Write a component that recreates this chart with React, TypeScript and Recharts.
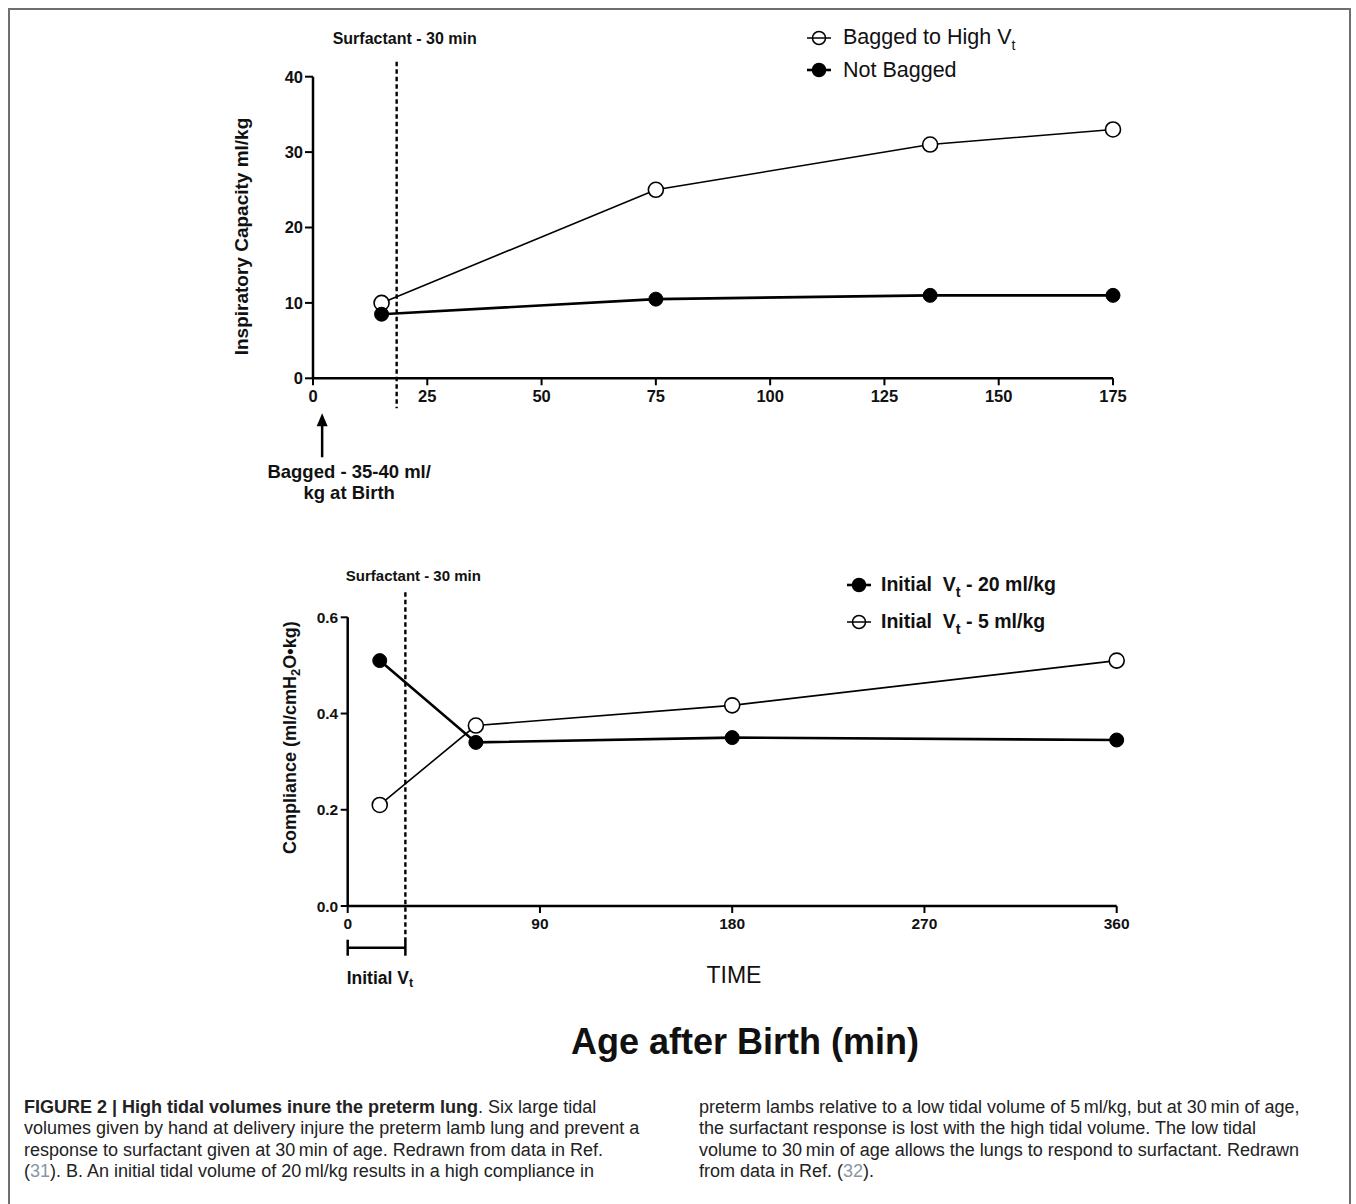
import React from 'react';
import { LineChart, Line, XAxis, YAxis, ReferenceLine, Legend } from 'recharts';

// ---------- Panel A data ----------
const topTimes = [15, 75, 135, 175];
const baggedHighVt = [10, 25, 31, 33];
const notBagged = [8.5, 10.5, 11, 11];
const topXTicks = [0, 25, 50, 75, 100, 125, 150, 175];
const topYTicks = [0, 10, 20, 30, 40];
const topSurfactantTime = 18.3;
const baggedAtBirthTime = 2;

// ---------- Panel B data ----------
const bottomTimes = [15, 60, 180, 360];
const initialVt20 = [0.51, 0.34, 0.35, 0.345];
const initialVt5 = [0.21, 0.375, 0.417, 0.51];
const bottomXTicks = [0, 90, 180, 270, 360];
const bottomYTicks = [0, 0.2, 0.4, 0.6];
const bottomSurfactantTime = 27;
const initialVtStart = 0;

const topData = topTimes.map((t, i) => ({ t, bagged: baggedHighVt[i], notBagged: notBagged[i] }));
const bottomData = bottomTimes.map((t, i) => ({ t, vt20: initialVt20[i], vt5: initialVt5[i] }));

const FONT = '"Liberation Sans", Arial, Helvetica, sans-serif';

const axisLine = { stroke: '#000', strokeWidth: 2.5 };
const tickLine = { stroke: '#000', strokeWidth: 2 };

function LegendIcon({ filled, thick }: { filled: boolean; thick: boolean }) {
  return (
    <svg width={26} height={18} style={{ display: 'block', flex: 'none' }}>
      <circle cx={13} cy={9} r={6.5} fill={filled ? '#000' : '#fff'} stroke="#000" strokeWidth={1.5} />
      <line x1={1} x2={25} y1={9} y2={9} stroke="#000" strokeWidth={thick ? 2.6 : 1.5} />
    </svg>
  );
}

const dashedShape = (label: string, fontSize: number, extTop: number, extBottom: number, labelDx: number, labelDy: number) =>
  (p: any) => {
    const top = Math.min(p.y1, p.y2);
    const bottom = Math.max(p.y1, p.y2);
    return (
      <g>
        <line x1={p.x1} x2={p.x1} y1={top - extTop} y2={bottom + extBottom} stroke="#000" strokeWidth={2.4} strokeDasharray="4.5 3" />
        <text x={p.x1 + labelDx} y={top - labelDy} textAnchor="middle" dominantBaseline="central" fontSize={fontSize} fontWeight={700} fontFamily={FONT} fill="#111">
          {label}
        </text>
      </g>
    );
  };

const arrowShape = (p: any) => {
  const bottom = Math.max(p.y1, p.y2);
  const x = p.x1;
  const tip = bottom + 35;
  return (
    <g>
      <line x1={x} x2={x} y1={tip + 10} y2={bottom + 79} stroke="#000" strokeWidth={2.5} />
      <path d={`M ${x} ${tip} L ${x - 5.5} ${tip + 13} L ${x + 5.5} ${tip + 13} Z`} fill="#000" />
      <text x={x + 27} y={bottom + 93.5} textAnchor="middle" dominantBaseline="central" fontSize={18.5} fontWeight={700} fontFamily={FONT} fill="#111">
        Bagged - 35-40 ml/
      </text>
      <text x={x + 27} y={bottom + 114.5} textAnchor="middle" dominantBaseline="central" fontSize={18.5} fontWeight={700} fontFamily={FONT} fill="#111">
        kg at Birth
      </text>
    </g>
  );
};

const bracketShape = (p: any) => {
  const y = Math.max(p.y1, p.y2) + 41.7;
  return (
    <g>
      <line x1={p.x1} x2={p.x2} y1={y} y2={y} stroke="#000" strokeWidth={2.5} />
      <line x1={p.x1} x2={p.x1} y1={y - 8} y2={y + 8} stroke="#000" strokeWidth={2.5} />
      <line x1={p.x2} x2={p.x2} y1={y - 8} y2={y + 8} stroke="#000" strokeWidth={2.5} />
      <text x={p.x1 - 1} y={y + 30} dominantBaseline="central" fontSize={17.5} fontWeight={700} fontFamily={FONT} fill="#111">
        Initial V<tspan fontSize={12.5} dy={5}>t</tspan>
      </text>
    </g>
  );
};

const topYLabel = (props: any) => {
  const vb = props.viewBox || { x: 253, y: 76.7, width: 60, height: 301.6 };
  const cx = vb.x + vb.width - 71.3;
  const cy = vb.y + vb.height / 2 + 9;
  return (
    <text x={cx} y={cy} transform={`rotate(-90 ${cx} ${cy})`} textAnchor="middle" dominantBaseline="central" fontSize={19} fontWeight={700} fontFamily={FONT} fill="#111">
      Inspiratory Capacity ml/kg
    </text>
  );
};

const bottomYLabel = (props: any) => {
  const vb = props.viewBox || { x: 287.7, y: 77.3, width: 60, height: 288.7 };
  const cx = vb.x + vb.width - 57.7;
  const cy = vb.y + vb.height / 2 - 24;
  return (
    <text x={cx} y={cy} transform={`rotate(-90 ${cx} ${cy})`} textAnchor="middle" dominantBaseline="central" fontSize={18} fontWeight={700} fontFamily={FONT} fill="#111">
      Compliance (ml/cmH<tspan fontSize={13} dy={5}>2</tspan><tspan dy={-5}>O•kg)</tspan>
    </text>
  );
};

const topLegendRows = [
  { label: 'Bagged to High V', sub: 't', filled: false, thick: false },
  { label: 'Not Bagged', sub: '', filled: true, thick: true },
];

const bottomLegendRows = [
  { label: 'Initial  V', sub: 't', rest: ' - 20 ml/kg', filled: true, thick: true },
  { label: 'Initial  V', sub: 't', rest: ' - 5 ml/kg', filled: false, thick: false },
];

const topLegend = () => (
  <div style={{ fontFamily: FONT, color: '#111' }}>
    {topLegendRows.map((r) => (
      <div key={r.label} style={{ display: 'flex', alignItems: 'center', height: 32 }}>
        <LegendIcon filled={r.filled} thick={r.thick} />
        <span style={{ marginLeft: 11, fontSize: 21.5, lineHeight: '22px', whiteSpace: 'pre' }}>
          {r.label}
          {r.sub ? <span style={{ fontSize: 14, position: 'relative', top: 6 }}>{r.sub}</span> : null}
        </span>
      </div>
    ))}
  </div>
);

const bottomLegend = () => (
  <div style={{ fontFamily: FONT, color: '#111' }}>
    {bottomLegendRows.map((r) => (
      <div key={r.rest} style={{ display: 'flex', alignItems: 'center', height: 36.7 }}>
        <LegendIcon filled={r.filled} thick={r.thick} />
        <span style={{ marginLeft: 9, fontSize: 19.5, fontWeight: 700, lineHeight: '20px', whiteSpace: 'pre' }}>
          {r.label}
          <span style={{ fontSize: 14.5, position: 'relative', top: 6 }}>{r.sub}</span>
          {r.rest}
        </span>
      </div>
    ))}
  </div>
);

const captionLeft = [
  [
    { t: 'FIGURE 2 | High tidal volumes inure the preterm lung', b: true },
    { t: '. Six large tidal' },
  ],
  [{ t: 'volumes given by hand at delivery injure the preterm lamb lung and prevent a' }],
  [{ t: 'response to surfactant given at 30\u2009min of age. Redrawn from data in Ref.' }],
  [{ t: '(' }, { t: '31', ref: true }, { t: '). B. An initial tidal volume of 20\u2009ml/kg results in a high compliance in' }],
];

const captionRight = [
  [{ t: 'preterm lambs relative to a low tidal volume of 5\u2009ml/kg, but at 30\u2009min of age,' }],
  [{ t: 'the surfactant response is lost with the high tidal volume. The low tidal' }],
  [{ t: 'volume to 30\u2009min of age allows the lungs to respond to surfactant. Redrawn' }],
  [{ t: 'from data in Ref. (' }, { t: '32', ref: true }, { t: ').' }],
];

function Caption({ lines, left }: { lines: any[][]; left: number }) {
  return (
    <div style={{ position: 'absolute', left, top: 1097, fontFamily: FONT, fontSize: 18, lineHeight: '21.3px', color: '#222' }}>
      {lines.map((line, i) => (
        <div key={i} style={{ whiteSpace: 'nowrap' }}>
          {line.map((s: any, j: number) => (
            <span key={j} style={{ fontWeight: s.b ? 700 : 400, color: s.ref ? '#8a96a3' : undefined }}>
              {s.t}
            </span>
          ))}
        </div>
      ))}
    </div>
  );
}

export default function App() {
  return (
    <div style={{ position: 'absolute', left: 0, top: 0, width: 1356, height: 1204, overflow: 'hidden', background: '#fff', fontFamily: FONT }}>
      <div style={{ position: 'absolute', left: 8, top: 8, width: 1339, height: 1300, borderTop: '2px solid #6f6f6f', borderLeft: '2px solid #6f6f6f', borderRight: '2px solid #6f6f6f' }} />

      {/* Panel A */}
      <div style={{ position: 'absolute', left: 0, top: 0 }}>
        <LineChart width={1356} height={520} data={topData} margin={{ top: 76.7, right: 243, bottom: 111.7, left: 253 }}>
          <XAxis
            type="number"
            dataKey="t"
            domain={[0, 175]}
            ticks={topXTicks}
            interval={0}
            height={30}
            axisLine={axisLine}
            tickLine={tickLine}
            tickSize={7}
            tickMargin={5}
            tick={{ fill: '#111', fontSize: 16.5, fontWeight: 700, fontFamily: FONT }}
          />
          <YAxis
            type="number"
            domain={[0, 40]}
            ticks={topYTicks}
            interval={0}
            width={60}
            axisLine={axisLine}
            tickLine={tickLine}
            tickSize={8}
            tickMargin={2}
            tick={{ fill: '#111', fontSize: 16.5, fontWeight: 700, fontFamily: FONT }}
            label={{ content: topYLabel }}
          />
          <ReferenceLine x={topSurfactantTime} stroke="#000" shape={dashedShape('Surfactant - 30 min', 16, 15, 30, 8, 38.7)} />
          <ReferenceLine x={baggedAtBirthTime} stroke="#000" shape={arrowShape} />
          <Line
            type="linear"
            dataKey="bagged"
            name="Bagged to High Vt"
            stroke="#000"
            strokeWidth={1.6}
            isAnimationActive={false}
            dot={{ r: 7.5, fill: '#fff', stroke: '#000', strokeWidth: 1.6 }}
          />
          <Line
            type="linear"
            dataKey="notBagged"
            name="Not Bagged"
            stroke="#000"
            strokeWidth={2.6}
            isAnimationActive={false}
            dot={{ r: 7, fill: '#000', stroke: '#000', strokeWidth: 1 }}
          />
          <Legend layout="vertical" align="center" verticalAlign="middle" content={topLegend} wrapperStyle={{ left: 806, top: 22, width: 330, height: 64 }} />
        </LineChart>
      </div>

      {/* Panel B */}
      <div style={{ position: 'absolute', left: 0, top: 540 }}>
        <LineChart width={1356} height={460} data={bottomData} margin={{ top: 77.3, right: 239.3, bottom: 64, left: 287.7 }}>
          <XAxis
            type="number"
            dataKey="t"
            domain={[0, 360]}
            ticks={bottomXTicks}
            interval={0}
            height={30}
            axisLine={axisLine}
            tickLine={tickLine}
            tickSize={7}
            tickMargin={5}
            tick={{ fill: '#111', fontSize: 15.5, fontWeight: 700, fontFamily: FONT }}
          />
          <YAxis
            type="number"
            domain={[0, 0.6]}
            ticks={bottomYTicks}
            interval={0}
            width={60}
            axisLine={axisLine}
            tickLine={tickLine}
            tickSize={7}
            tickMargin={2.5}
            tickFormatter={(v: number) => v.toFixed(1)}
            tick={{ fill: '#111', fontSize: 15.5, fontWeight: 700, fontFamily: FONT }}
            label={{ content: bottomYLabel }}
          />
          <ReferenceLine x={bottomSurfactantTime} stroke="#000" shape={dashedShape('Surfactant - 30 min', 15, 25, 34, 8, 42)} />
          <ReferenceLine
            segment={[{ x: initialVtStart, y: 0 }, { x: bottomSurfactantTime, y: 0 }]}
            stroke="#000"
            shape={bracketShape}
          />
          <Line
            type="linear"
            dataKey="vt20"
            name="Initial Vt - 20 ml/kg"
            stroke="#000"
            strokeWidth={2.6}
            isAnimationActive={false}
            dot={{ r: 7, fill: '#000', stroke: '#000', strokeWidth: 1 }}
          />
          <Line
            type="linear"
            dataKey="vt5"
            name="Initial Vt - 5 ml/kg"
            stroke="#000"
            strokeWidth={1.6}
            isAnimationActive={false}
            dot={{ r: 7.5, fill: '#fff', stroke: '#000', strokeWidth: 1.6 }}
          />
          <Legend layout="vertical" align="center" verticalAlign="middle" content={bottomLegend} wrapperStyle={{ left: 846, top: 26.6, width: 330, height: 74 }} />
        </LineChart>
      </div>

      <div style={{ position: 'absolute', left: 734 - 60, width: 120, top: 962, textAlign: 'center', fontSize: 23, lineHeight: '26px', color: '#111' }}>TIME</div>
      <div style={{ position: 'absolute', left: 745 - 300, width: 600, top: 1020, textAlign: 'center', fontSize: 36, fontWeight: 700, lineHeight: '44px', color: '#111' }}>
        Age after Birth (min)
      </div>

      <Caption lines={captionLeft} left={24} />
      <Caption lines={captionRight} left={699} />
    </div>
  );
}
